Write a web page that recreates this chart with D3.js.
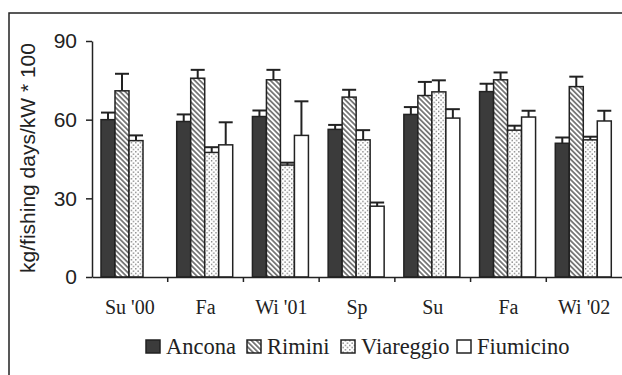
<!DOCTYPE html>
<html><head><meta charset="utf-8">
<script src="https://cdn.jsdelivr.net/npm/d3@7"></script>
<style>
body{margin:0;background:#fff}
.serif{font-family:"Liberation Serif","Times New Roman",Times,serif}
.sans{font-family:"Liberation Sans",Arial,Helvetica,sans-serif}
</style>
</head><body>
<svg id="c" width="622" height="375"></svg>
<script>
const categories = ["Su '00", "Fa", "Wi '01", "Sp", "Su", "Fa ", "Wi '02"];
const seriesNames = ["Ancona", "Rimini", "Viareggio", "Fiumicino"];
const ancona    = [60, 59.3, 61.2, 56.3, 62, 70.7, 51];
const anconaErr = [2.7, 2.7, 2.3, 1.7, 2.8, 3, 2.2];
const rimini    = [71, 75.8, 75.2, 68.6, 69.2, 75.2, 72.6];
const riminiErr = [6.5, 3.2, 3.8, 2.8, 5.2, 2.8, 3.8];
const viareggio    = [52, 47.5, 42.7, 52.3, 70.6, 56, 52.3];
const viareggioErr = [2, 2, 0.9, 3.7, 4.4, 1.7, 1.2];
const fiumicino    = [null, 50.4, 54, 27, 60.6, 61, 59.5];
const fiumicinoErr = [null, 8.6, 13, 1.4, 3.4, 2.4, 3.9];
const yTicks = [0, 30, 60, 90];
const yLabel = "kg/fishing days/kW * 100";

const values = [ancona, rimini, viareggio, fiumicino];
const errs = [anconaErr, riminiErr, viareggioErr, fiumicinoErr];

const svg = d3.select("#c");
const defs = svg.append("defs");
const ph = defs.append("pattern").attr("id","hatch").attr("patternUnits","userSpaceOnUse")
  .attr("width",3.6).attr("height",3.6).attr("patternTransform","rotate(45)");
ph.append("rect").attr("width",3.6).attr("height",3.6).attr("fill","#fff");
ph.append("line").attr("x1",0).attr("y1",1.8).attr("x2",3.6).attr("y2",1.8).attr("stroke","#333").attr("stroke-width",1.2);
const pd = defs.append("pattern").attr("id","dots").attr("patternUnits","userSpaceOnUse")
  .attr("width",4.5).attr("height",4.5);
pd.append("rect").attr("width",4.5).attr("height",4.5).attr("fill","#fff");
pd.append("rect").attr("x",0.5).attr("y",0.5).attr("width",1.2).attr("height",1.2).attr("fill","#555");
pd.append("rect").attr("x",2.75).attr("y",2.75).attr("width",1.2).attr("height",1.2).attr("fill","#555");

const fills = ["#3b3b3b", "url(#hatch)", "url(#dots)", "#fff"];

svg.append("rect").attr("x",9).attr("y",13).attr("width",620).attr("height",370)
  .attr("fill","none").attr("stroke","#222").attr("stroke-width",1.5);

const y = d3.scaleLinear().domain([0,90]).range([277,41]);
const x0 = d3.scaleBand().domain(categories).range([92,622]).padding(0);
const x1 = d3.scaleBand().domain(seriesNames).range([9,65]).padding(0);

const g = svg.append("g");
categories.forEach((c,i)=>{
  const gg = g.append("g").attr("transform",`translate(${x0(c)},0)`);
  seriesNames.forEach((s,j)=>{
    const v = values[j][i];
    if (v == null) return;
    const bx = x1(s), bw = x1.bandwidth();
    const top = y(v + errs[j][i]);
    gg.append("line").attr("x1",bx+bw/2).attr("x2",bx+bw/2).attr("y1",y(v)).attr("y2",top)
      .attr("stroke","#222").attr("stroke-width",2);
    gg.append("line").attr("x1",bx).attr("x2",bx+bw).attr("y1",top).attr("y2",top)
      .attr("stroke","#222").attr("stroke-width",2);
    gg.append("rect").attr("x",bx).attr("y",y(v)).attr("width",bw).attr("height",y(0)-y(v))
      .attr("fill",fills[j]).attr("stroke","#222").attr("stroke-width",1.5);
  });
});

const ya = svg.append("g").attr("transform","translate(92,0)")
  .call(d3.axisLeft(y).tickValues(yTicks).tickSize(6).tickPadding(9).tickSizeOuter(0));
ya.attr("font-family",null).attr("font-size",null).attr("class","sans");
ya.select(".domain").attr("stroke","#222").attr("stroke-width",1.5);
ya.selectAll(".tick line").attr("stroke","#222").attr("stroke-width",1.5);
ya.selectAll("text").style("font-size","21px").attr("fill","#222");

const xa = svg.append("g").attr("transform","translate(0,277)")
  .call(d3.axisBottom(x0).tickSize(0).tickPadding(23).tickSizeOuter(0));
xa.attr("font-family",null).attr("font-size",null).attr("class","serif");
xa.select(".domain").attr("stroke","#222").attr("stroke-width",1.5);
xa.selectAll("text").style("font-size","20px").attr("fill","#222");
svg.append("g").selectAll("line").data(categories.slice(1)).join("line")
  .attr("x1",d=>x0(d)).attr("x2",d=>x0(d)).attr("y1",277).attr("y2",282)
  .attr("stroke","#222").attr("stroke-width",1.5);

svg.append("text").attr("class","sans").attr("transform","translate(35,158) rotate(-90)")
  .attr("text-anchor","middle").style("font-size","21px").attr("fill","#222").text(yLabel);

const lx = [146, 247, 341, 457];
const lg = svg.append("g");
seriesNames.forEach((s,j)=>{
  lg.append("rect").attr("x",lx[j]).attr("y",340).attr("width",14).attr("height",13)
    .attr("fill",fills[j]).attr("stroke","#222").attr("stroke-width",1.5);
  lg.append("text").attr("class","serif").attr("x",lx[j]+20).attr("y",354)
    .style("font-size","22.5px").attr("fill","#222").text(s);
});
</script>
</body></html>
